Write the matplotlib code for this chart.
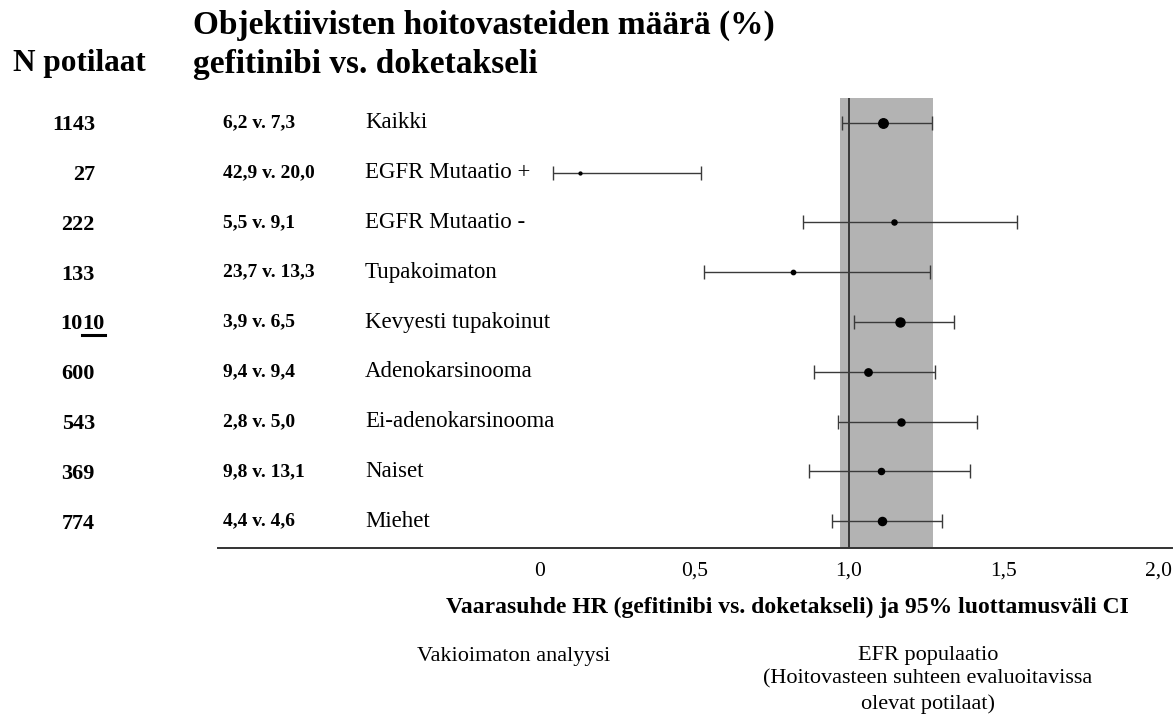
import numpy as np
import matplotlib
matplotlib.use("Agg")
import matplotlib.pyplot as plt
from matplotlib.transforms import blended_transform_factory

plt.rcParams["font.family"] = ["Liberation Serif", "DejaVu Serif"]

# data
n_patients = ["1143", "27", "222", "133", "1010", "600", "543", "369", "774"]
n_values = [1143, 27, 222, 133, 1010, 600, 543, 369, 774]
response_rates = ["6,2 v. 7,3", "42,9 v. 20,0", "5,5 v. 9,1", "23,7 v. 13,3",
                  "3,9 v. 6,5", "9,4 v. 9,4", "2,8 v. 5,0", "9,8 v. 13,1",
                  "4,4 v. 4,6"]
groups = ["Kaikki", "EGFR Mutaatio +", "EGFR Mutaatio -", "Tupakoimaton",
          "Kevyesti tupakoinut", "Adenokarsinooma", "Ei-adenokarsinooma",
          "Naiset", "Miehet"]
hr = [1.111, 0.129, 1.146, 0.817, 1.165, 1.062, 1.167, 1.104, 1.108]
ci_low = [0.976, 0.043, 0.850, 0.531, 1.015, 0.885, 0.963, 0.872, 0.945]
ci_high = [1.269, 0.521, 1.544, 1.262, 1.341, 1.278, 1.414, 1.392, 1.302]
band = (0.971, 1.272)
tick_vals = [0, 0.5, 1.0, 1.5, 2.0]
tick_labels = ["0", "0,5", "1,0", "1,5", "2,0"]

W, H = 1174, 717
fig = plt.figure(figsize=(W / 100, H / 100), dpi=100)

# axes placed in pixel terms of the original image
left, right, top, bottom = 218, 1172, 98, 548
ax = fig.add_axes([left / W, 1 - bottom / H, (right - left) / W, (bottom - top) / H])
ax.set_xlim(-1.042, 2.045)
ax.set_ylim(8.54, -0.5)

ax.axvspan(band[0], band[1], color="#b3b3b3", lw=0, zorder=0)
ax.axvline(1.0, color="#222222", lw=1.2, zorder=1)

rows = np.arange(len(groups))
hr = np.array(hr)
err = np.vstack([hr - np.array(ci_low), np.array(ci_high) - hr])
ax.errorbar(hr, rows, xerr=err, fmt="none", ecolor="#3a3a3a", elinewidth=1.0,
            capsize=5, capthick=1.0, zorder=2)
# marker size grows with number of patients
sizes = 1.2 + np.sqrt(n_values) / 6
for x, y, s in zip(hr, rows, sizes):
    ax.plot(x, y, "o", color="black", ms=s, zorder=3)

for sp in ["top", "right", "left"]:
    ax.spines[sp].set_visible(False)
ax.spines["bottom"].set_color("#333333")
ax.spines["bottom"].set_linewidth(1.4)
ax.set_yticks([])
ax.set_xticks(tick_vals)
ax.set_xticklabels(tick_labels, fontsize=15.5)
ax.tick_params(axis="x", length=0, pad=10)

# row texts
tr = blended_transform_factory(fig.transFigure, ax.transData)
for i in rows:
    if n_patients[i] == "1010":
        t1 = ax.text(60 / W, i + 0.05, "10", transform=tr, ha="left", va="center",
                     fontsize=16, fontweight="bold")
        fig.canvas.draw()
        bb = t1.get_window_extent()
        t2 = ax.text(bb.x1 / W, i + 0.05, "10", transform=tr, ha="left", va="center",
                     fontsize=16, fontweight="bold")
        fig.canvas.draw()
        bb2 = t2.get_window_extent()
        fig.add_artist(plt.Line2D([bb2.x0 / W, bb2.x1 / W],
                                  [(bb2.y0 - 1) / H, (bb2.y0 - 1) / H],
                                  color="black", lw=2.2))
    else:
        ax.text(95 / W, i + 0.05, n_patients[i], transform=tr, ha="right",
                va="center", fontsize=16, fontweight="bold")
    ax.text(223 / W, i, response_rates[i], transform=tr, ha="left", va="center",
            fontsize=14, fontweight="bold")
    ax.text(365 / W, i, groups[i], transform=tr, ha="left", va="center",
            fontsize=16.5)

fig.text(193 / W, 1 - 25 / H, "Objektiivisten hoitovasteiden määrä (%)",
         ha="left", va="center", fontsize=24, fontweight="bold")
fig.text(193 / W, 1 - 64 / H, "gefitinibi vs. doketakseli",
         ha="left", va="center", fontsize=24, fontweight="bold")
fig.text(13 / W, 1 - 64 / H, "N potilaat", ha="left", va="center",
         fontsize=22.5, fontweight="bold")

fig.text(787 / W, 1 - 607 / H,
         "Vaarasuhde HR (gefitinibi vs. doketakseli) ja 95% luottamusväli CI",
         ha="center", va="center", fontsize=17, fontweight="bold")

fig.text(514 / W, 1 - 657 / H, "Vakioimaton analyysi", ha="center", va="center",
         fontsize=16)
fig.text(928 / W, 1 - 646 / H,
         "EFR populaatio\n(Hoitovasteen suhteen evaluoitavissa\nolevat potilaat)",
         ha="center", va="top", fontsize=16, linespacing=1.33)

fig.savefig("out.png", dpi=100)
